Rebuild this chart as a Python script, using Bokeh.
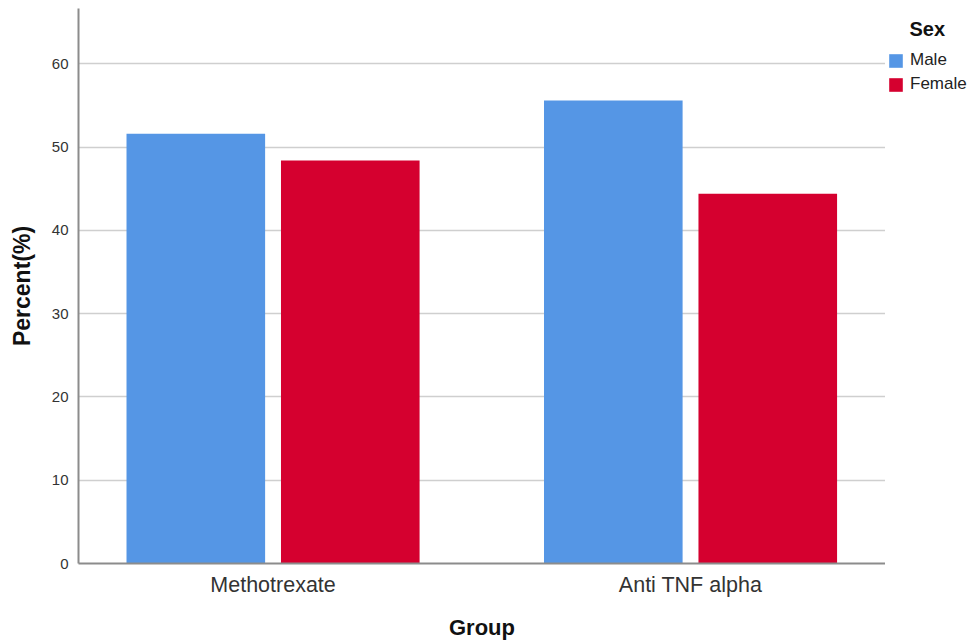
from bokeh.plotting import figure
from bokeh.layouts import row
from bokeh.models import (ColumnDataSource, Range1d, FixedTicker, Legend, LegendItem, Label)
from bokeh.transform import dodge
from bokeh.embed import file_html
from bokeh.resources import INLINE

groups = ["Methotrexate", "Anti TNF alpha"]
male = [51.6, 55.6]
female = [48.4, 44.4]
y_ticks = [0, 10, 20, 30, 40, 50, 60]
legend_title = "Sex"
series_names = ["Male", "Female"]
colors = ["#5596E5", "#D5002F"]

FONT = "Liberation Sans"
H = 642
TOP, BOTTOM = 8, 79
FRAME_H = H - TOP - BOTTOM

src = ColumnDataSource(dict(x=list(range(len(groups))), male=male, female=female))

p = figure(width=885, height=H, output_backend="svg", toolbar_location=None,
           x_range=Range1d(-0.466, 1.467), y_range=Range1d(0, 66.64),
           min_border_left=78, min_border_right=0, min_border_top=TOP, min_border_bottom=BOTTOM)
p.outline_line_color = None
p.background_fill_color = "white"
p.border_fill_color = "white"

p.vbar(x=dodge("x", -0.185, range=p.x_range), top="male", width=0.332, source=src,
       fill_color=colors[0], line_color=None)
p.vbar(x=dodge("x", 0.185, range=p.x_range), top="female", width=0.332, source=src,
       fill_color=colors[1], line_color=None)

p.xgrid.visible = False
p.ygrid.grid_line_color = "#cfcfcf"
p.ygrid.grid_line_width = 1.5
p.ygrid.ticker = FixedTicker(ticks=y_ticks)

xa = p.xaxis[0]
xa.ticker = FixedTicker(ticks=list(range(len(groups))))
xa.major_label_overrides = {i: g for i, g in enumerate(groups)}
xa.major_tick_line_color = None
xa.minor_tick_line_color = None
xa.major_tick_out = 0
xa.major_tick_in = 0
xa.major_label_standoff = 9
xa.major_label_text_font = FONT
xa.major_label_text_font_size = "21.5px"
xa.major_label_text_color = "#333333"
xa.axis_line_color = "#8c8c8c"
xa.axis_line_width = 2
xa.axis_label = "Group"
xa.axis_label_text_font = FONT
xa.axis_label_text_font_size = "22px"
xa.axis_label_text_font_style = "bold"
xa.axis_label_text_color = "#111111"
xa.axis_label_standoff = 15

ya = p.yaxis[0]
ya.ticker = FixedTicker(ticks=y_ticks)
ya.major_tick_line_color = None
ya.minor_tick_line_color = None
ya.major_tick_out = 0
ya.major_tick_in = 0
ya.major_label_standoff = 10
ya.major_label_text_font = FONT
ya.major_label_text_font_size = "15px"
ya.major_label_text_color = "#333333"
ya.axis_line_color = "#8c8c8c"
ya.axis_line_width = 2
ya.axis_label = "Percent(%)"
ya.axis_label_text_font = FONT
ya.axis_label_text_font_size = "23px"
ya.axis_label_text_font_style = "bold"
ya.axis_label_text_color = "#111111"
ya.axis_label_standoff = 14

# legend panel to the right of the chart (its frame lines up with the chart's frame);
# hidden copies of the bars give the legend its swatches
q = figure(width=85, height=H, output_backend="svg", toolbar_location=None,
           x_range=Range1d(0, 1), y_range=Range1d(0, 1),
           x_axis_location=None, y_axis_location=None,
           min_border_left=0, min_border_right=0, min_border_top=TOP, min_border_bottom=BOTTOM)
q.outline_line_color = None
q.xgrid.visible = False
q.ygrid.visible = False
q.background_fill_color = "white"
q.border_fill_color = "white"

sw_m = q.vbar(x="x", top="male", width=0.332, source=src, fill_color=colors[0], line_color=None)
sw_f = q.vbar(x="x", top="female", width=0.332, source=src, fill_color=colors[1], line_color=None)
sw_m.visible = False
sw_f.visible = False
legend = Legend(items=[LegendItem(label=series_names[0], renderers=[sw_m]),
                       LegendItem(label=series_names[1], renderers=[sw_f])],
                location=(2, 469), orientation="vertical",
                glyph_width=17, glyph_height=17, label_height=17, spacing=4,
                padding=0, margin=0, border_line_color=None, background_fill_alpha=0,
                label_standoff=6, label_text_font=FONT, label_text_font_size="17px",
                label_text_color="#222222", click_policy="none")
q.add_layout(legend, "center")
q.add_layout(Label(x=24, y=FRAME_H + TOP - 28, x_units="screen", y_units="screen", text=legend_title,
                   text_font=FONT, text_font_size="20px", text_font_style="bold",
                   text_color="#111111", text_baseline="alphabetic", text_align="left"))

layout = row(p, q, spacing=0)
open("out.html", "w").write(file_html(layout, INLINE))
